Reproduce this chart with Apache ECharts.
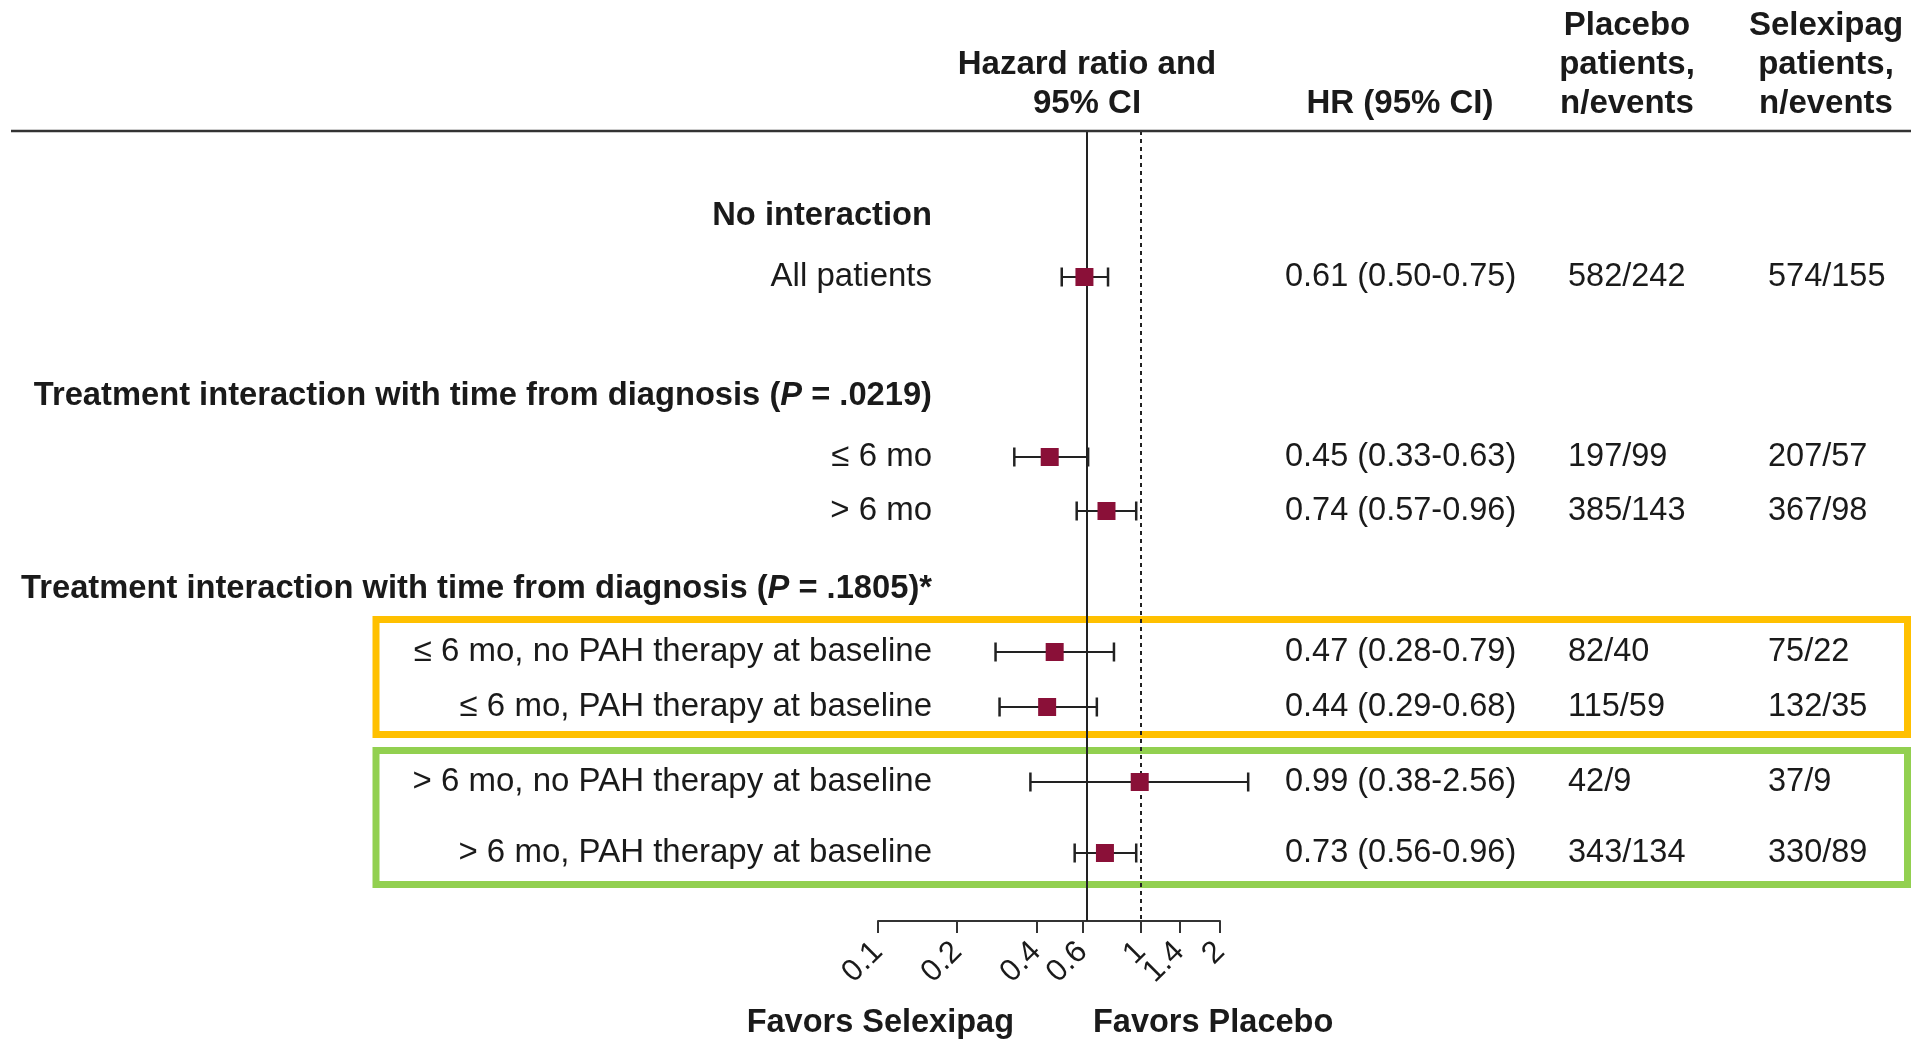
<!DOCTYPE html>
<html>
<head>
<meta charset="utf-8">
<script src="https://cdn.jsdelivr.net/npm/echarts@6/dist/echarts.min.js"></script>
<style>
html,body{margin:0;padding:0;background:#fff;}
#chart{width:1911px;height:1040px;}
</style>
</head>
<body>
<div id="chart"></div>
<script>
// ---------------- DATA ----------------
const ROW_LABELS = [
  'No interaction',
  'All patients',
  'Treatment interaction with time from diagnosis ({i|P} = .0219)',
  '\u2264 6 mo',
  '> 6 mo',
  'Treatment interaction with time from diagnosis ({i|P} = .1805)*',
  '\u2264 6 mo, no PAH therapy at baseline',
  '\u2264 6 mo, PAH therapy at baseline',
  '> 6 mo, no PAH therapy at baseline',
  '> 6 mo, PAH therapy at baseline'
];
const ROW_IS_HEADING = [true, false, true, false, false, true, false, false, false, false];
const HR       = [null, 0.61, null, 0.45, 0.74, null, 0.47, 0.44, 0.99, 0.73];
const CI_LOW   = [null, 0.50, null, 0.33, 0.57, null, 0.28, 0.29, 0.38, 0.56];
const CI_HIGH  = [null, 0.75, null, 0.63, 0.96, null, 0.79, 0.68, 2.56, 0.96];
const PLACEBO_N_EVENTS   = [null, '582/242', null, '197/99', '385/143', null, '82/40', '115/59', '42/9', '343/134'];
const SELEXIPAG_N_EVENTS = [null, '574/155', null, '207/57', '367/98', null, '75/22', '132/35', '37/9', '330/89'];
const AXIS_TICKS = [0.1, 0.2, 0.4, 0.6, 1, 1.4, 2];
const NULL_EFFECT_LINE = 1;
const OVERALL_EFFECT_LINE = 0.62;
const HEADER_FOREST = ['Hazard ratio and', '95% CI'];
const HEADER_HR = ['HR (95% CI)'];
const HEADER_PLACEBO = ['Placebo', 'patients,', 'n/events'];
const HEADER_SELEXIPAG = ['Selexipag', 'patients,', 'n/events'];
const FAVORS_LEFT = 'Favors Selexipag';
const FAVORS_RIGHT = 'Favors Placebo';

// ---------------- LAYOUT ----------------
const ROW_Y = [216, 277, 396, 457, 511, 589, 652, 707, 782, 853];
const FONT = "'Liberation Sans', Arial, Helvetica, sans-serif";
const TXT = '#1a1a1a';
const FS_LABEL = 33;
const FS_LABEL_BOLD = 32.7;
const FS_COL = 32.5;
const FS_HEAD = 33;
const FS_FAVORS = 32.5;
const COL_LABEL_RIGHT = 932;
const COL_HR_LEFT = 1285;
const COL_PLACEBO_LEFT = 1568;
const COL_SELEXIPAG_LEFT = 1768;
const MARKER_COLOR = '#8a1038';

const fmt = v => v.toFixed(2);

const forestData = [];
HR.forEach((v, i) => {
  if (v != null) forestData.push([v, CI_LOW[i], CI_HIGH[i], ROW_Y[i]]);
});
const textData = ROW_LABELS.map((l, i) => [1, ROW_Y[i]]);

const chart = echarts.init(document.getElementById('chart'), null, {renderer: 'canvas'});

function headerText(lines, cx, ys) {
  return lines.map((t, k) => ({
    type: 'text', x: cx, y: ys[k], z: 10,
    style: {text: t, fontFamily: FONT, fontSize: FS_HEAD, fontWeight: 'bold', fill: TXT,
            align: 'center', verticalAlign: 'middle'}
  }));
}

const graphics = [
  {type: 'line', shape: {x1: 11, y1: 131, x2: 1911, y2: 131}, style: {stroke: '#333', lineWidth: 2.5}, z: 10},
  {type: 'rect', shape: {x: 376, y: 619.5, width: 1531.5, height: 115}, style: {fill: 'none', stroke: '#FFC000', lineWidth: 7}, z: 0},
  {type: 'rect', shape: {x: 376, y: 750.5, width: 1531.5, height: 134}, style: {fill: 'none', stroke: '#92D050', lineWidth: 7}, z: 0},
  {type: 'text', x: 1014, y: 1023, style: {text: FAVORS_LEFT, fontFamily: FONT, fontSize: FS_FAVORS, fontWeight: 'bold', fill: TXT, align: 'right', verticalAlign: 'middle'}},
  {type: 'text', x: 1093, y: 1023, style: {text: FAVORS_RIGHT, fontFamily: FONT, fontSize: FS_FAVORS, fontWeight: 'bold', fill: TXT, align: 'left', verticalAlign: 'middle'}}
]
.concat(headerText(HEADER_FOREST, 1087, [64.5, 103.5]))
.concat(headerText(HEADER_HR, 1400, [103.5]))
.concat(headerText(HEADER_PLACEBO, 1627, [25.5, 64.5, 103.5]))
.concat(headerText(HEADER_SELEXIPAG, 1826, [25.5, 64.5, 103.5]));

const option = {
  backgroundColor: '#ffffff',
  animation: false,
  grid: {left: 878, right: 691, top: 131, bottom: 119, containLabel: false},
  xAxis: {
    type: 'log', logBase: 10, min: 0.1, max: 2,
    position: 'bottom',
    axisLine: {show: true, lineStyle: {color: '#333', width: 2}},
    axisTick: {show: true, customValues: AXIS_TICKS, length: 12, lineStyle: {color: '#333', width: 2}},
    minorTick: {show: false},
    splitLine: {show: false},
    axisLabel: {
      customValues: AXIS_TICKS, rotate: 45, margin: 26,
      fontFamily: FONT, fontSize: 31, color: TXT,
      formatter: v => String(+Number(v).toPrecision(3))
    }
  },
  yAxis: {type: 'value', min: 131, max: 921, inverse: true, show: false},
  graphic: graphics,
  series: [
    {
      type: 'line', data: [], z: 1, silent: true,
      markLine: {
        silent: true, symbol: ['none', 'none'], label: {show: false},
        data: [
          {xAxis: OVERALL_EFFECT_LINE, lineStyle: {type: 'solid', color: '#222', width: 2}},
          {xAxis: NULL_EFFECT_LINE, lineStyle: {type: [4, 4], color: '#222', width: 2}}
        ]
      }
    },
    {
      type: 'custom', z: 5, clip: false, silent: true,
      data: forestData,
      encode: {x: [0, 1, 2], y: 3},
      renderItem: function (params, api) {
        const y = api.value(3);
        const p = api.coord([api.value(0), y]);
        const pl = api.coord([api.value(1), y]);
        const ph = api.coord([api.value(2), y]);
        const cap = 9.5, half = 9;
        const ls = {stroke: '#222', lineWidth: 2};
        return {
          type: 'group',
          children: [
            {type: 'line', shape: {x1: pl[0], y1: p[1], x2: ph[0], y2: p[1]}, style: ls},
            {type: 'line', shape: {x1: pl[0], y1: p[1] - cap, x2: pl[0], y2: p[1] + cap}, style: {stroke: '#222', lineWidth: 2.5}},
            {type: 'line', shape: {x1: ph[0], y1: p[1] - cap, x2: ph[0], y2: p[1] + cap}, style: {stroke: '#222', lineWidth: 2.5}},
            {type: 'rect', shape: {x: p[0] - half, y: p[1] - half, width: 2 * half, height: 2 * half}, style: {fill: MARKER_COLOR}}
          ]
        };
      }
    },
    {
      type: 'custom', z: 6, clip: false, silent: true,
      data: textData,
      encode: {x: 0, y: 1},
      renderItem: function (params, api) {
        const i = params.dataIndex;
        const y = api.coord([api.value(0), api.value(1)])[1];
        const heading = ROW_IS_HEADING[i];
        const fs = heading ? FS_LABEL_BOLD : FS_LABEL;
        const baseStyle = {fontFamily: FONT, fill: TXT, verticalAlign: 'middle'};
        const children = [{
          type: 'text', x: COL_LABEL_RIGHT, y: y,
          style: Object.assign({}, baseStyle, {
            text: ROW_LABELS[i], align: 'right', fontSize: fs,
            fontWeight: heading ? 'bold' : 'normal',
            rich: {i: {fontFamily: FONT, fontSize: fs, fontWeight: 'bold', fontStyle: 'italic', fill: TXT}}
          })
        }];
        if (HR[i] != null) {
          children.push({type: 'text', x: COL_HR_LEFT, y: y, style: Object.assign({}, baseStyle, {
            fontSize: FS_COL,
            text: fmt(HR[i]) + ' (' + fmt(CI_LOW[i]) + '-' + fmt(CI_HIGH[i]) + ')', align: 'left'})});
          children.push({type: 'text', x: COL_PLACEBO_LEFT, y: y, style: Object.assign({}, baseStyle, {
            fontSize: FS_COL, text: PLACEBO_N_EVENTS[i], align: 'left'})});
          children.push({type: 'text', x: COL_SELEXIPAG_LEFT, y: y, style: Object.assign({}, baseStyle, {
            fontSize: FS_COL, text: SELEXIPAG_N_EVENTS[i], align: 'left'})});
        }
        return {type: 'group', children: children};
      }
    }
  ]
};
chart.setOption(option);
</script>
</body>
</html>
